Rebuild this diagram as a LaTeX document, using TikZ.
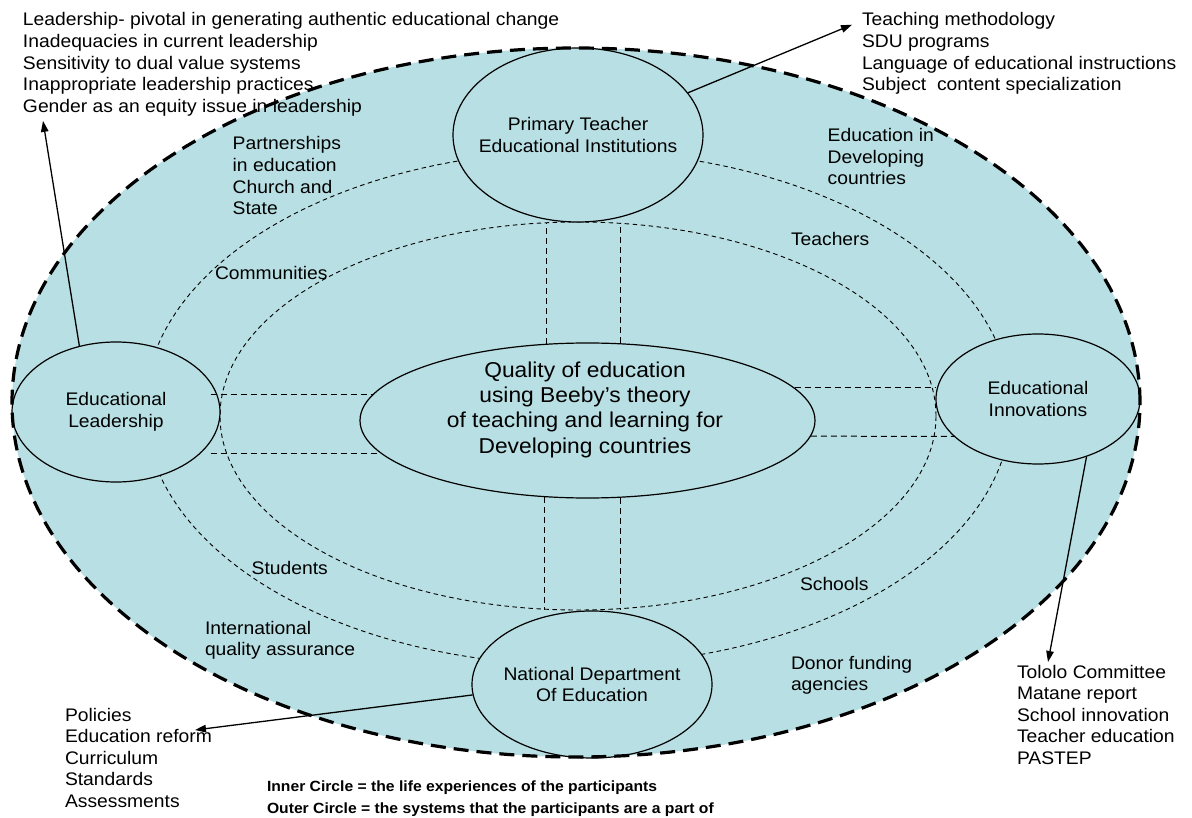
\documentclass[tikz,border=0pt]{standalone}
\usepackage{fontspec}
\setmainfont[FakeStretch=1.06]{Liberation Sans}
\usetikzlibrary{arrows.meta,shapes.geometric,calc}
\definecolor{bgblue}{RGB}{184,223,227}
\newcommand\leftlines[1]{\begin{tabular}[t]{@{}l@{}}#1\end{tabular}}
\newcommand\midlines[1]{\begin{tabular}[t]{@{}c@{}}#1\end{tabular}}
\begin{document}
\begin{tikzpicture}[x=1pt,y=-1pt,
  lbl/.style={inner sep=0pt,outer sep=0pt,anchor=base west,font=\fontsize{18.2}{21.6}\selectfont},
  ell/.style={ellipse,draw,line width=1.2pt,fill=bgblue,inner xsep=-50pt,inner ysep=0pt,align=center,font=\fontsize{18.2}{21.6}\selectfont},
  finedash/.style={line width=0.9pt,dash pattern=on 4.5pt off 3.5pt},
  sepline/.style={line width=1pt,dash pattern=on 6pt off 4pt},
  arr/.style={line width=1.3pt,-{Triangle[length=11pt,width=7.5pt]}},
  border/.style={line width=3.2pt,dash pattern=on 15pt off 8pt}]
\useasboundingbox (0,0) rectangle (1192,818);
% background
\fill[bgblue] (576,402.5) ellipse [x radius=564pt, y radius=354.5pt];
\draw[finedash] (578,408) ellipse [x radius=433pt, y radius=257pt];
\draw[finedash] (578,416) ellipse [x radius=358pt, y radius=194pt];
% main nodes
\node[ell,minimum width=250pt,minimum height=174pt] (prim) at (578,135) {Primary Teacher\\Educational Institutions};
\node[ell,minimum width=208pt,minimum height=140pt] (lead) at (116,412) {Educational\\Leadership};
\node[ell,minimum width=204pt,minimum height=130pt] (innov) at (1038,399) {Educational\\Innovations};
\node[ell,minimum width=240pt,minimum height=147pt] (dept) at (592,684.5) {National Department\\Of Education};
\node[ell,minimum width=455pt,minimum height=155pt] (qual) at (587.5,420.5) {};
\node[inner sep=0pt,anchor=base,font=\fontsize{21.5}{25.3}\selectfont] (qualtext) at (585,377.3)
  {\midlines{Quality of education\\using Beeby’s theory\\of teaching and learning for\\Developing countries}};
% separator lines
\draw[sepline] ($(lead.east |- qual.173.2)+(-10,0)$) -- (qual.173.2);
\draw[sepline] ($(lead.east |- qual.189.9)+(-10,0)$) -- (qual.189.9);
\draw[sepline] (qual.9.6) -- (qual.9.6 -| innov.west);
\draw[sepline] (qual.-4.2) -- (innov.204.6);
\draw[sepline] (qual.118.5) -- (qual.118.5 |- prim.south);
\draw[sepline] (qual.67) -- (qual.67 |- prim.south);
\draw[sepline] (qual.241.5) -- (qual.241.5 |- dept.north);
\draw[sepline] (qual.293) -- (qual.293 |- dept.north);
% outer border
\draw[border] (576,402.5) ellipse [x radius=564pt, y radius=354.5pt];
% labels inside
\node[lbl] (partner) at (232.7,150) {\leftlines{Partnerships\\in education\\Church and\\State}};
\node[lbl] (commun) at (215,280) {Communities};
\node[lbl] (edudev) at (827.7,141.7) {\leftlines{Education in\\Developing\\countries}};
\node[lbl] (teachers) at (791,246) {Teachers};
\node[lbl] (students) at (251.7,574) {Students};
\node[lbl] (intl) at (205,634) {\leftlines{International\\quality assurance}};
\node[lbl] (schools) at (800,590) {Schools};
\node[lbl] (donor) at (791,669) {\leftlines{Donor funding\\agencies}};
% outside lists
\node[lbl] (leadlist) at (23,26) {\leftlines{Leadership- pivotal in generating authentic educational change\\Inadequacies in current leadership\\Sensitivity to dual value systems\\Inappropriate leadership practices\\Gender as an equity issue in leadership}};
\node[lbl] (teachlist) at (862,26) {\leftlines{Teaching methodology\\SDU programs\\Language of educational instructions\\Subject~ content specialization}};
\node[lbl] (deptlist) at (65,721) {\leftlines{Policies\\Education reform\\Curriculum\\Standards\\Assessments}};
\node[lbl] (innovlist) at (1017,678) {\leftlines{Tololo Committee\\Matane report\\School innovation\\Teacher education\\PASTEP}};
\node[lbl,font=\bfseries\fontsize{14.8}{21.3}\selectfont] (note) at (267,791.7) {\leftlines{Inner Circle = the life experiences of the participants\\Outer Circle = the systems that the participants are a part of}};
% arrows
\draw[arr] (lead.119.5) -- ([xshift=20pt,yshift=-2pt]leadlist.south west);
\draw[arr] (prim.21.5) -- ([xshift=-10pt,yshift=1.3pt]teachlist.base west);
\draw[arr] (dept.185.9) -- ([xshift=130pt,yshift=-9pt]deptlist.base west);
\draw[arr] (innov.-50.5) -- ([xshift=31pt,yshift=16pt]innovlist.base west);
\end{tikzpicture}
\end{document}
